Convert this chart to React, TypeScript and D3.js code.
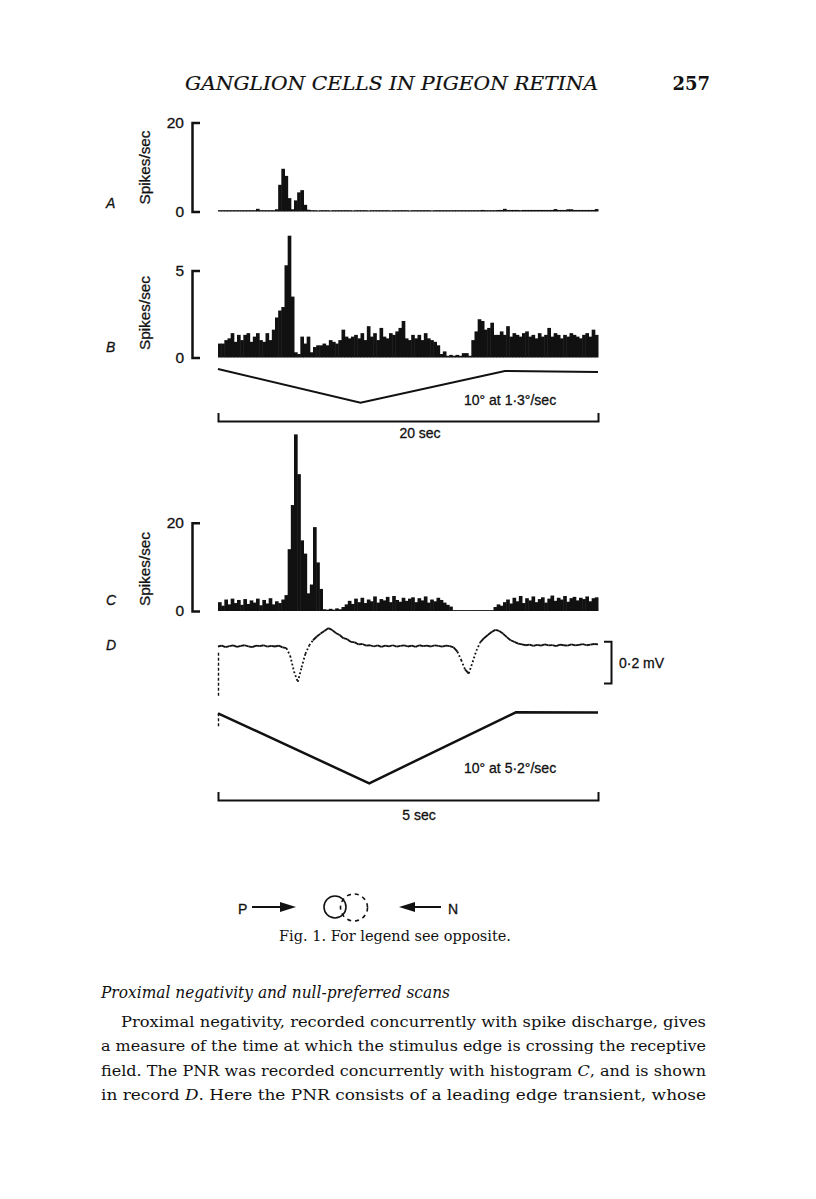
import React, { useEffect, useRef } from 'react';
import * as d3 from 'd3';

// Histograms, spikes/sec per bin (120 bins across the scan)
const histA = [
  0.3, 0.3, 0.3, 0.3, 0.3, 0.3, 0.3, 0.3, 0.3, 0.3, 0.3, 0.3, 0.6, 0.3, 0.3, 0.3, 0.3, 0.3,
  0.5, 6.0, 9.6, 8.0, 3.0, 0.5, 2.5, 4.3, 4.8, 1.5, 0.4,
  0.3, 0.3, 0.25, 0.3, 0.3, 0.3, 0.25, 0.3, 0.3, 0.3,
  0.3, 0.3, 0.3, 0.25, 0.3, 0.3, 0.3, 0.3, 0.25, 0.3,
  0.3, 0.3, 0.3, 0.3, 0.3, 0.25, 0.3, 0.3, 0.3, 0.3,
  0.3, 0.25, 0.3, 0.3, 0.3, 0.3, 0.3, 0.3, 0.25, 0.3,
  0.3, 0.3, 0.3, 0.3, 0.3, 0.3, 0.3, 0.3, 0.3, 0.3,
  0.3, 0.3, 0.3, 0.3, 0.35, 0.3, 0.3, 0.3, 0.3, 0.35,
  0.35, 0.6, 0.35, 0.35, 0.35, 0.35, 0.3, 0.35, 0.35, 0.35,
  0.35, 0.35, 0.35, 0.35, 0.35, 0.35, 0.35, 0.55, 0.35, 0.35,
  0.35, 0.5, 0.5, 0.35, 0.35, 0.35, 0.35, 0.35, 0.35, 0.35,
  0.55,
];

const histB = [
  0.8, 0.8, 1.0, 1.1, 1.4, 0.9, 1.3, 1.0, 1.3, 1.4, 0.9, 1.2, 1.4, 1.0, 0.9, 1.4, 1.0,
  1.6, 2.3, 2.7, 2.9, 5.3, 7.0, 3.5,
  0.3, 0.2, 1.2, 0.8, 1.2, 0.3,
  0.6, 0.7, 0.7, 0.8, 0.7, 1.0, 0.9, 0.8, 1.0,
  1.6,
  1.2, 1.1, 1.2, 1.3, 1.1, 1.4, 1.0, 1.8, 1.2, 1.4, 1.0, 1.7, 1.2, 1.1, 1.4, 1.3, 1.5, 1.7, 2.1, 1.1,
  1.0, 1.3, 1.1, 1.3, 1.0, 1.4, 1.1, 1.0, 0.9, 0.7,
  0.2, 0.35, 0.1, 0.15, 0.1, 0.15, 0.1, 0.25, 0.25, 0.1,
  1.0, 1.5, 2.2, 2.1, 1.6, 1.7, 2.0, 1.3,
  1.3, 1.5, 1.3, 1.8, 1.2, 1.4, 1.3, 1.2, 1.4, 1.5,
  1.2, 1.3, 1.1, 1.4, 1.2, 1.3, 1.7, 1.2, 1.4, 1.3,
  1.1, 1.3, 1.2, 1.4, 1.3, 1.2, 1.1, 1.3, 1.4, 1.2,
  1.6, 1.3,
];

const histC = [
  2.0, 1.2, 2.6, 1.5, 2.8, 1.8, 2.5, 1.4, 2.7, 1.6, 2.4, 1.9, 2.8, 1.3, 2.5, 1.7, 2.9, 1.5, 2.2, 1.8, 2.6, 3.6,
  14, 24, 40, 31, 16, 13, 4,
  6, 19, 11, 5,
  0.4, 0.3, 0.5, 0.3, 0.6, 0.4, 0.9,
  1.5, 2.3, 1.6, 2.8, 2.0, 3.0, 1.8, 2.6, 2.2, 3.3, 1.9, 2.7, 2.4, 3.2, 2.0, 3.4, 2.5, 2.1, 3.0, 2.3,
  2.8, 3.1, 2.0, 2.9, 2.4, 3.3, 1.9, 2.6, 2.2, 3.0, 2.5, 1.9, 1.4, 1.0,
  0.2, 0.2, 0.2, 0.2, 0.2, 0.2, 0.2, 0.2, 0.2, 0.2, 0.2, 0.2, 0.2,
  0.9, 1.5, 1.2, 2.0,
  2.6, 1.7, 3.0, 2.2, 3.4, 1.8, 2.9, 2.4, 3.3, 2.0, 2.7, 3.1, 1.9, 2.8, 3.5,
  2.3, 3.0, 2.6, 3.4, 2.1, 2.9, 3.2, 2.4, 3.0, 2.7, 3.3, 2.2, 2.9, 3.1,
];

// Record D: proximal negative response (mV), one sample every 0.05 sec over 5 sec
const pnrValues = [
  0.0, 0.004, -0.003, 0.002, 0.005, -0.002, 0.003, 0.006, 0.001, -0.003, 0.004, 0.002, 0.006, -0.001, 0.003, 0.0, 0.004, -0.004,
  -0.008, -0.045, -0.12, -0.17, -0.1, -0.035, 0.005, 0.03, 0.048, 0.062, 0.075, 0.088, 0.08, 0.065, 0.055, 0.04, 0.035, 0.022, 0.02, 0.01, 0.012, 0.004,
  0.006, 0.0, 0.005, -0.002, 0.004, 0.001, 0.006, -0.001, 0.003, 0.005, 0.0, 0.004, -0.002, 0.006, 0.002, 0.004, 0.0, 0.005, 0.003, -0.001, 0.004, 0.002,
  -0.004, -0.025, -0.065, -0.11, -0.13, -0.075, -0.02, 0.02, 0.04, 0.055, 0.07, 0.08, 0.075, 0.062, 0.045, 0.03, 0.022, 0.014, 0.01,
  0.006, 0.009, 0.003, 0.008, 0.004, 0.01, 0.005, 0.007, 0.002, 0.009, 0.006, 0.004, 0.01, 0.005, 0.008, 0.011, 0.006, 0.009, 0.012, 0.01,
];

// Stimulus position traces (time in sec, position in deg)
const stimBTimes = [0, 7.5, 15.1, 20];
const stimBDeg = [0, -10, -0.6, -0.9];
const stimDTimes = [0, 1.99, 3.92, 5];
const stimDDeg = [0, -10, 0.15, 0.1];

const headTitle = 'GANGLION CELLS IN PIGEON RETINA';
const pageNumber = '257';
const caption = 'Fig. 1. For legend see opposite.';
const sectionHeading = 'Proximal negativity and null-preferred scans';
const bodyLines = [
  [{ t: 'Proximal negativity, recorded concurrently with spike discharge, gives' }],
  [{ t: 'a measure of the time at which the stimulus edge is crossing the receptive' }],
  [{ t: 'field. The PNR was recorded concurrently with histogram ' }, { t: 'C', i: true }, { t: ', and is shown' }],
  [{ t: 'in record ' }, { t: 'D', i: true }, { t: '. Here the PNR consists of a leading edge transient, whose' }],
];

const App = () => {
  const svgRef = useRef<SVGSVGElement>(null);

  useEffect(() => {
    const svg = d3.select(svgRef.current);
    svg.selectAll('*').remove();

    const ink = '#111';
    const sans = "'Liberation Sans', Arial, sans-serif";
    const serif = "'DejaVu Serif', serif";
    const X0 = 218, X1 = 598;

    // sans labels in the figure are a little heavier than the regular face
    const sansText = (sel: any, size = 14) =>
      sel.attr('font-family', sans).attr('font-size', size).attr('fill', ink)
        .attr('stroke', ink).attr('stroke-width', 0.3);

    svg.append('rect').attr('width', 816).attr('height', 1199).attr('fill', '#fff');

    // running head
    svg.append('text')
      .attr('x', 185).attr('y', 90)
      .attr('font-family', serif).attr('font-style', 'italic').attr('font-size', 18)
      .attr('textLength', 413).attr('lengthAdjust', 'spacingAndGlyphs')
      .attr('fill', ink).attr('stroke', ink).attr('stroke-width', 0.2)
      .text(headTitle);
    svg.append('text')
      .attr('x', 710).attr('y', 90).attr('text-anchor', 'end')
      .attr('font-family', serif).attr('font-weight', 'bold').attr('font-size', 18)
      .attr('fill', ink).text(pageNumber);

    // histograms A, B, C
    const panels = [
      { letter: 'A', values: histA, max: 20, base: 211.5, top: 122.5, letterY: 208, labelY: 167.5 },
      { letter: 'B', values: histB, max: 5, base: 357.5, top: 270.5, letterY: 352, labelY: 313 },
      { letter: 'C', values: histC, max: 20, base: 611, top: 522.7, letterY: 605, labelY: 569 },
    ];

    panels.forEach(p => {
      const x = d3.scaleLinear().domain([0, p.values.length]).range([X0, X1]);
      const y = d3.scaleLinear().domain([0, p.max]).range([p.base, p.top]);

      svg.append('g').selectAll('rect').data(p.values).join('rect')
        .attr('x', (d, i) => x(i))
        .attr('width', (d, i) => x(i + 1) - x(i) + 0.5)
        .attr('y', d => y(d))
        .attr('height', d => p.base - y(d))
        .attr('fill', ink);

      const ax = svg.append('g')
        .attr('transform', 'translate(192,0)')
        .call(d3.axisLeft(y).tickValues([0, p.max]).tickSize(-8).tickPadding(8).tickFormat(d3.format('d')));
      ax.select('.domain').attr('stroke', ink).attr('stroke-width', 2.5);
      ax.selectAll('.tick line').remove();
      sansText(ax.selectAll('.tick text'), 15.5);

      sansText(svg.append('text'), 15)
        .attr('transform', `translate(144.5,${p.labelY}) rotate(-90)`)
        .attr('text-anchor', 'middle').attr('dy', '0.35em')
        .attr('textLength', 74).attr('lengthAdjust', 'spacingAndGlyphs')
        .text('Spikes/sec');

      sansText(svg.append('text'))
        .attr('x', 106).attr('y', p.letterY)
        .attr('font-style', 'italic')
        .text(p.letter);
    });

    // stimulus trace and time bar under B
    const xB = d3.scaleLinear().domain([0, 20]).range([X0, X1]);
    const yB = d3.scaleLinear().domain([0, -10]).range([369, 402.7]);
    const stimLineB = d3.line<number>().x(t => xB(t)).y((t, i) => yB(stimBDeg[i]));
    svg.append('path').datum(stimBTimes)
      .attr('fill', 'none').attr('stroke', ink).attr('stroke-width', 2)
      .attr('d', stimLineB);
    sansText(svg.append('text'))
      .attr('x', 464).attr('y', 405)
      .text('10\u00B0 at 1\u00B73\u00B0/sec');
    const barB = svg.append('g').attr('transform', 'translate(0,421)')
      .call(d3.axisBottom(xB).tickValues([]).tickSizeOuter(-8));
    barB.select('.domain').attr('stroke', ink).attr('stroke-width', 2);
    sansText(svg.append('text'))
      .attr('x', 420).attr('y', 438).attr('text-anchor', 'middle')
      .text('20 sec');

    // record D
    sansText(svg.append('text'))
      .attr('x', 106).attr('y', 650)
      .attr('font-style', 'italic')
      .text('D');

    const pnrX = d3.scaleLinear().domain([0, pnrValues.length - 1]).range([X0, X1]);
    const pnrY = d3.scaleLinear().domain([0, -0.2]).range([646.5, 688.1]);
    const segs = d3.pairs(pnrValues.map((v, i) => [pnrX(i), pnrY(v)]));
    svg.append('g').selectAll('line').data(segs).join('line')
      .attr('x1', d => d[0][0]).attr('y1', d => d[0][1])
      .attr('x2', d => d[1][0]).attr('y2', d => d[1][1])
      .attr('stroke', ink).attr('stroke-width', 1.8)
      .attr('stroke-dasharray', d => (Math.abs(d[1][1] - d[0][1]) > 5 ? '1.8,2.2' : null));

    // onset marker
    svg.append('line')
      .attr('x1', pnrX(0) + 0.5).attr('x2', pnrX(0) + 0.5)
      .attr('y1', pnrY(-0.03)).attr('y2', pnrY(-0.24))
      .attr('stroke', ink).attr('stroke-width', 1.4).attr('stroke-dasharray', '3,2');

    // 0.2 mV calibration
    const barY = d3.scaleLinear().domain([0.025, -0.175]).range([pnrY(0.025), pnrY(-0.175)]);
    const calib = svg.append('g').attr('transform', 'translate(611,0)')
      .call(d3.axisRight(barY).tickValues([]).tickSizeOuter(-7));
    calib.select('.domain').attr('stroke', ink).attr('stroke-width', 2);
    sansText(svg.append('text'))
      .attr('x', 619).attr('y', 668)
      .text('0\u00B72 mV');

    // stimulus trace D
    const xD = d3.scaleLinear().domain([0, 5]).range([X0, X1]);
    const yD = d3.scaleLinear().domain([0, -10]).range([713.3, 783.3]);
    const stimLineD = d3.line<number>().x(t => xD(t)).y((t, i) => yD(stimDDeg[i]));
    svg.append('path').datum(stimDTimes)
      .attr('fill', 'none').attr('stroke', ink).attr('stroke-width', 2.5)
      .attr('d', stimLineD);
    svg.append('line')
      .attr('x1', xD(0) + 0.5).attr('x2', xD(0) + 0.5)
      .attr('y1', yD(0)).attr('y2', yD(-2))
      .attr('stroke', ink).attr('stroke-width', 1.4).attr('stroke-dasharray', '3,2');
    sansText(svg.append('text'))
      .attr('x', 464).attr('y', 773)
      .text('10\u00B0 at 5\u00B72\u00B0/sec');
    const barD = svg.append('g').attr('transform', 'translate(0,800)')
      .call(d3.axisBottom(xD).tickValues([]).tickSizeOuter(-8));
    barD.select('.domain').attr('stroke', ink).attr('stroke-width', 2);
    sansText(svg.append('text'))
      .attr('x', 419).attr('y', 820).attr('text-anchor', 'middle')
      .text('5 sec');

    // direction key
    const key = svg.append('g');
    sansText(key.append('text')).attr('x', 238).attr('y', 914).text('P');
    key.append('line').attr('x1', 252).attr('x2', 282).attr('y1', 907).attr('y2', 907)
      .attr('stroke', ink).attr('stroke-width', 2);
    key.append('path').attr('d', 'M280,902L296,907L280,912Z').attr('fill', ink);
    key.append('circle').attr('cx', 335).attr('cy', 907).attr('r', 11)
      .attr('fill', 'none').attr('stroke', ink).attr('stroke-width', 1.6);
    key.append('circle').attr('cx', 354).attr('cy', 907.5).attr('r', 13.5)
      .attr('fill', 'none').attr('stroke', ink).attr('stroke-width', 1.6).attr('stroke-dasharray', '4,4');
    key.append('path').attr('d', 'M415,902L399,907L415,912Z').attr('fill', ink);
    key.append('line').attr('x1', 413).attr('x2', 441).attr('y1', 907).attr('y2', 907)
      .attr('stroke', ink).attr('stroke-width', 2);
    sansText(key.append('text')).attr('x', 448).attr('y', 914).text('N');

    svg.append('text')
      .attr('x', 279).attr('y', 941)
      .attr('font-family', serif).attr('font-size', 14)
      .attr('textLength', 232).attr('lengthAdjust', 'spacingAndGlyphs')
      .attr('fill', ink).text(caption);

    // body text
    svg.append('text')
      .attr('x', 101).attr('y', 998)
      .attr('font-family', serif).attr('font-style', 'italic').attr('font-size', 16)
      .attr('textLength', 349).attr('lengthAdjust', 'spacingAndGlyphs')
      .attr('fill', ink).text(sectionHeading);

    const lineY = [1027, 1051, 1075.5, 1100];
    bodyLines.forEach((parts, li) => {
      const x0 = li === 0 ? 121 : 101;
      const t = svg.append('text')
        .attr('x', x0).attr('y', lineY[li])
        .attr('font-family', serif).attr('font-size', 15.5)
        .attr('textLength', 706 - x0).attr('lengthAdjust', 'spacingAndGlyphs')
        .attr('fill', ink);
      parts.forEach(pt => {
        t.append('tspan').attr('font-style', pt.i ? 'italic' : null).text(pt.t);
      });
    });
  }, []);

  return (
    <svg ref={svgRef} width={816} height={1199} style={{ position: 'absolute', left: 0, top: 0 }}></svg>
  );
};

export default App;
